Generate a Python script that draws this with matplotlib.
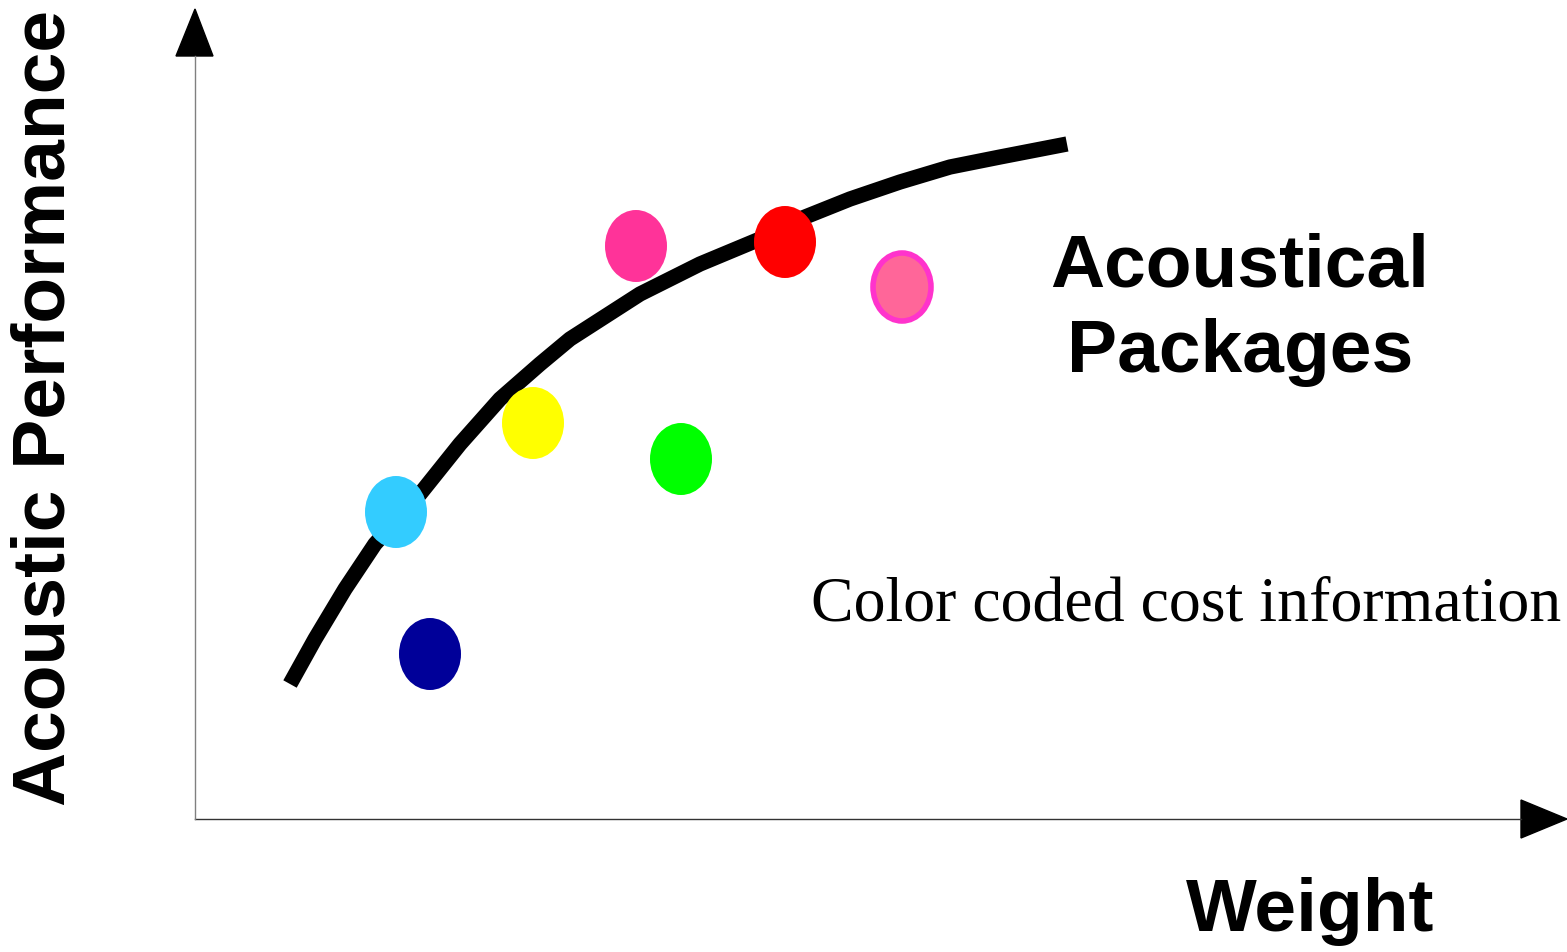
import matplotlib.pyplot as plt
from matplotlib.patches import Ellipse, Polygon

# trade-off curve (weight, acoustic performance) in chart units
curve_weight = [95, 120, 150, 180, 225, 265, 305, 345, 375, 445, 505, 565, 605, 655, 705, 755, 805, 872]
curve_perf = [135, 180, 230, 275, 325, 375, 420, 455, 480, 525, 555, 580, 600, 620, 637, 652, 662, 675]

# packages, colour coded by cost
pkg_weight = [235, 201, 338, 486, 441, 590, 707]
pkg_perf = [165, 307, 396, 360, 573, 577, 532]
pkg_face = ['#000099', '#33CCFF', '#FFFF00', '#00FF00', '#FF3399', '#FF0000', '#FF6699']
pkg_edge = ['#000099', '#33CCFF', '#FFFF00', '#00FF00', '#FF3399', '#FF0000', '#FF33CC']
pkg_edge_w = [0, 0, 0, 0, 0, 0, 4]

W, H = 1567, 953
fig = plt.figure(figsize=(W / 100, H / 100), dpi=100)
# axes origin sits at pixel (195, 820); 1 unit = 1 pixel
ax = fig.add_axes([195 / W, (H - 820) / H, (W - 195) / W, 810 / H])
ax.set_xlim(0, W - 195)
ax.set_ylim(0, 810)
ax.axis('off')

# axis lines
ax.plot([0, 1326], [0, 0], color='#333333', lw=1, clip_on=False)
ax.plot([0, 0], [0, 763], color='#808080', lw=1, clip_on=False)
# arrow heads
ax.add_patch(Polygon([[1326, 19], [1372, 0], [1326, -19]], closed=True,
                     color='black', clip_on=False))
ax.add_patch(Polygon([[-19, 763], [0, 810], [18, 763]], closed=True,
                     color='black', clip_on=False))

ax.plot(curve_weight, curve_perf, color='black', lw=11, solid_capstyle='butt',
        solid_joinstyle='round', zorder=2)

for x, y, fc, ec, lw in zip(pkg_weight, pkg_perf, pkg_face, pkg_edge, pkg_edge_w):
    ax.add_patch(Ellipse((x, y), 62 - lw, 72 - lw, facecolor=fc, edgecolor=ec,
                         lw=lw, zorder=3))

bold = dict(family='Liberation Sans', weight='bold')
fig.text(1240 / W, 1 - 310 / H, 'Acoustical\nPackages', ha='center', va='center',
         fontsize=54, linespacing=1.3, **bold)
fig.text(1310 / W, 1 - 912 / H, 'Weight', ha='center', va='center', fontsize=54, **bold)
fig.text(45 / W, 1 - 408 / H, 'Acoustic Performance', ha='center', va='center',
         rotation=90, fontsize=54, **bold)
fig.text(1186 / W, 1 - 606 / H, 'Color coded cost information', ha='center', va='center',
         fontsize=46, family='Liberation Serif')

fig.savefig('out.png', dpi=100)
